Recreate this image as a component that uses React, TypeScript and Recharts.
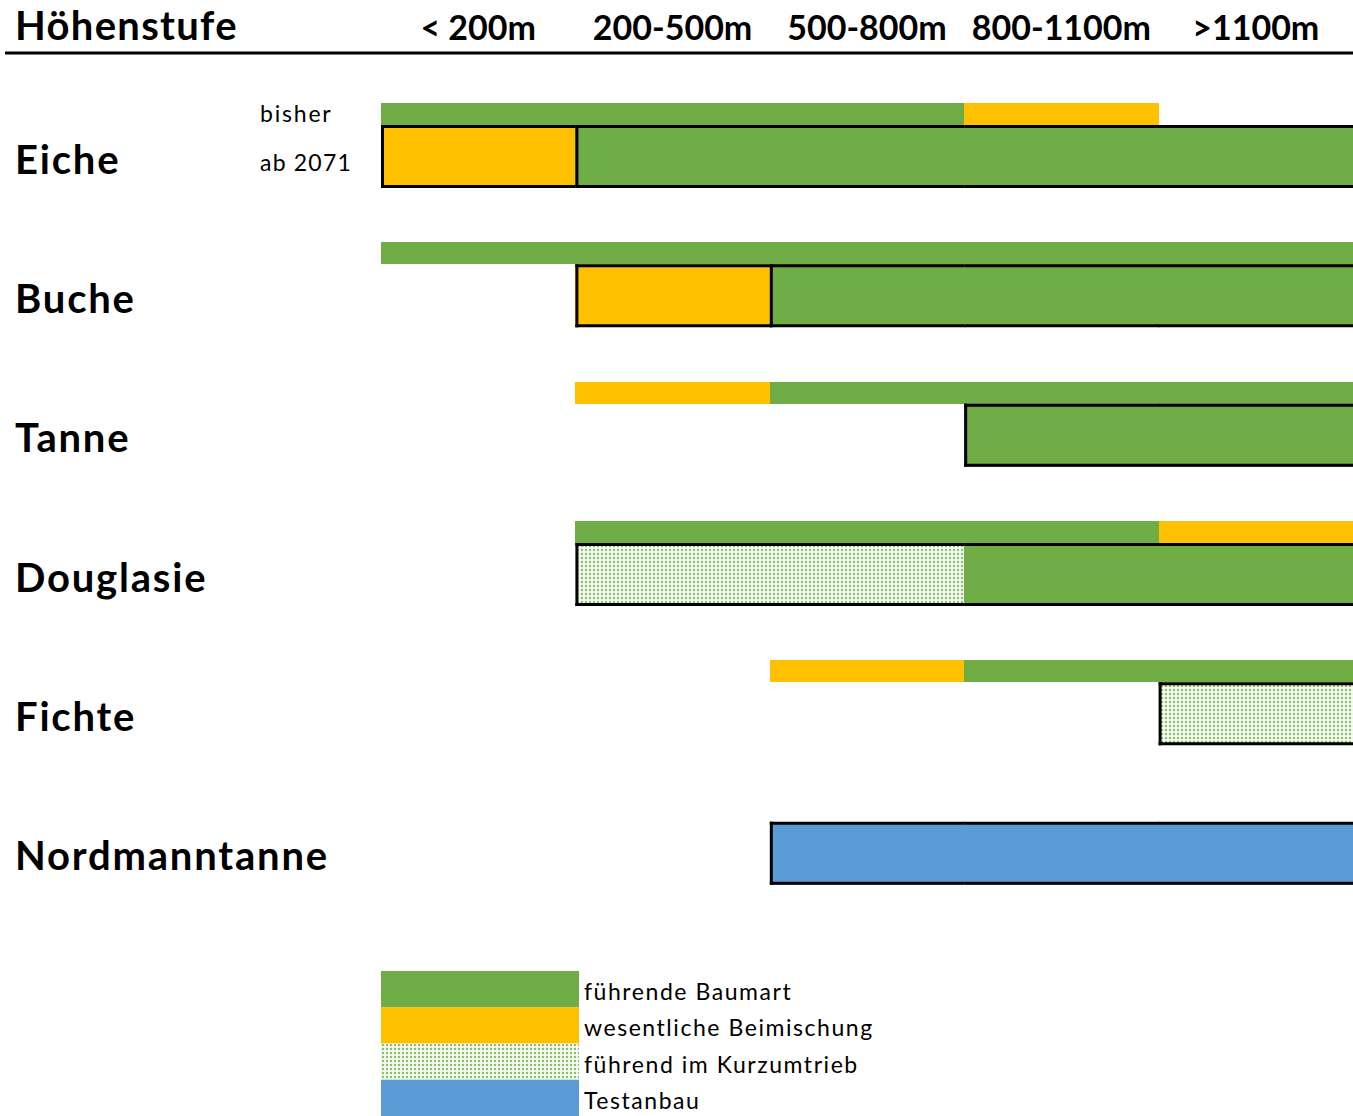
import React from 'react';
import { BarChart, Bar, XAxis, YAxis } from 'recharts';

// Höhenstufen (Spalten)
const zones = ['< 200m', '200-500m', '500-800m', '800-1100m', '>1100m'];
const species = ['Eiche', 'Buche', 'Tanne', 'Douglasie', 'Fichte', 'Nordmanntanne'];

// F = führende Baumart, B = wesentliche Beimischung, K = führend im Kurzumtrieb, T = Testanbau
const eicheBisher = ['F', 'F', 'F', 'B', ''];
const eicheAb2071 = ['B', 'F', 'F', 'F', 'F'];
const bucheBisher = ['F', 'F', 'F', 'F', 'F'];
const bucheAb2071 = ['', 'B', 'F', 'F', 'F'];
const tanneBisher = ['', 'B', 'F', 'F', 'F'];
const tanneAb2071 = ['', '', '', 'F', 'F'];
const douglasieBisher = ['', 'F', 'F', 'F', 'B'];
const douglasieAb2071 = ['', 'K', 'K', 'F', 'F'];
const fichteBisher = ['', '', 'B', 'F', 'F'];
const fichteAb2071 = ['', '', '', '', 'K'];
const nordmannBisher = ['', '', '', '', ''];
const nordmannAb2071 = ['', '', 'T', 'T', 'T'];

const legendKeys = ['F', 'B', 'K', 'T'];
const legendLabels = ['führende Baumart', 'wesentliche Beimischung', 'führend im Kurzumtrieb', 'Testanbau'];

const bisherRows = [eicheBisher, bucheBisher, tanneBisher, douglasieBisher, fichteBisher, nordmannBisher];
const abRows = [eicheAb2071, bucheAb2071, tanneAb2071, douglasieAb2071, fichteAb2071, nordmannAb2071];

const fills: Record<string, string> = {
  F: '#70AD47',
  B: '#FFC000',
  K: 'url(#kurz)',
  T: '#5B9BD5',
};

const FONT = 'Lato, "Open Sans", sans-serif';

// jede Höhenstufe = 1 Einheit, gestapelt
const data = species.map((name, i) => {
  const row: any = { name, bisher: bisherRows[i], ab: abRows[i] };
  zones.forEach((_, z) => {
    row[`b${z}`] = 1;
    row[`a${z}`] = 1;
  });
  return row;
});

const makeShape = (rowKey: 'bisher' | 'ab', z: number, framed: boolean) => (props: any) => {
  const { x, y, width, height, payload } = props;
  const cells: string[] = payload[rowKey];
  const cls = cells[z];
  if (!cls) return <g />;
  const sw = 3;
  const prev = z > 0 ? cells[z - 1] : '';
  const next = z < cells.length - 1 ? cells[z + 1] : '';
  const leftBorder = framed && (!prev || (prev === 'B' && cls !== 'B'));
  // kleine Überlappung gegen Nahtlinien
  const w = next ? width + 1 : width;
  return (
    <g>
      <rect x={x} y={y} width={w} height={height} fill={fills[cls]} shapeRendering="crispEdges" />
      {framed && (
        <>
          <line x1={x} x2={x + w} y1={y + sw / 2} y2={y + sw / 2} stroke="#000" strokeWidth={sw} />
          <line x1={x} x2={x + w} y1={y + height - sw / 2} y2={y + height - sw / 2} stroke="#000" strokeWidth={sw} />
        </>
      )}
      {leftBorder && (
        <line x1={x + sw / 2} x2={x + sw / 2} y1={y} y2={y + height} stroke="#000" strokeWidth={sw} />
      )}
    </g>
  );
};

const ZoneTick = (props: any) => {
  const { x, payload } = props;
  return (
    <text x={x} y={40} textAnchor="middle" fontFamily={FONT} fontWeight={700} fontSize={34} fill="#000">
      {zones[Math.floor(payload.value)]}
    </text>
  );
};

const SpeciesTick = (props: any) => {
  const { y, payload, index } = props;
  return (
    <g>
      <text x={15} y={y + 28} fontFamily={FONT} fontWeight={700} fontSize={40} letterSpacing={1.8} fill="#000">
        {payload.value}
      </text>
      {index === 0 && (
        <>
          <text x={260} y={y - 24} fontFamily={FONT} fontSize={23} letterSpacing={1.8} fill="#000">bisher</text>
          <text x={260} y={y + 25} fontFamily={FONT} fontSize={23} letterSpacing={1.2} fill="#000">ab 2071</text>
        </>
      )}
    </g>
  );
};

const Legend = () => (
  <svg width={600} height={146} style={{ position: 'absolute', left: 381, top: 971 }}>
    <defs>
      <pattern id="kurzLegend" width={4} height={4} patternUnits="userSpaceOnUse">
        <rect width={4} height={4} fill="#f7fbf4" />
        <circle cx={2} cy={2} r={1.25} fill="#8cc16c" />
      </pattern>
    </defs>
    {legendKeys.map((k, i) => (
      <g key={k}>
        <rect x={0} y={i * 36.25} width={198} height={36.5} fill={k === 'K' ? 'url(#kurzLegend)' : fills[k]} />
        <text x={203} y={i * 36.25 + 29} fontFamily={FONT} fontSize={23} letterSpacing={1.55} fill="#000">
          {legendLabels[i]}
        </text>
      </g>
    ))}
  </svg>
);

export default function App() {
  return (
    <div style={{ position: 'absolute', left: 0, top: 0, width: 1353, height: 1116, background: '#fff', overflow: 'hidden' }}>
      <BarChart
        width={1353}
        height={1116}
        data={data}
        layout="vertical"
        barGap={0}
        margin={{ top: 0, right: 0, left: 0, bottom: 204 }}
      >
        <defs>
          <pattern id="kurz" width={4} height={4} patternUnits="userSpaceOnUse">
            <rect width={4} height={4} fill="#f7fbf4" />
            <circle cx={2} cy={2} r={1.25} fill="#8cc16c" />
          </pattern>
        </defs>
        <text x={15} y={40} fontFamily={FONT} fontWeight={700} fontSize={40} letterSpacing={1.3} fill="#000">Höhenstufe</text>
        <line x1={5} x2={1353} y1={53} y2={53} stroke="#000" strokeWidth={3} />
        <XAxis
          type="number"
          orientation="top"
          domain={[0, 5]}
          ticks={[0.5, 1.5, 2.5, 3.5, 4.5]}
          height={76}
          axisLine={false}
          tickLine={false}
          tick={<ZoneTick />}
        />
        <YAxis type="category" dataKey="name" width={381} axisLine={false} tickLine={false} tick={<SpeciesTick />} />
        {zones.map((_, z) => (
          <Bar
            key={`b${z}`}
            dataKey={`b${z}`}
            stackId="bisher"
            barSize={22}
            isAnimationActive={false}
            shape={makeShape('bisher', z, false)}
          />
        ))}
        {zones.map((_, z) => (
          <Bar
            key={`a${z}`}
            dataKey={`a${z}`}
            stackId="ab"
            barSize={63}
            isAnimationActive={false}
            shape={makeShape('ab', z, true)}
          />
        ))}
      </BarChart>
      <Legend />
    </div>
  );
}
